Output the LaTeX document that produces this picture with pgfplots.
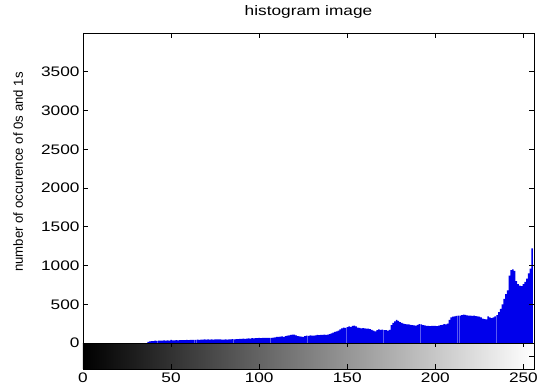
\documentclass[border=0pt]{standalone}
\usepackage{pgfplots}
\pgfplotsset{compat=1.18}
\usepackage{pgfplotstable}
\usepackage{fontspec}
\setmainfont[FakeStretch=1.25]{Liberation Sans}
\newfontfamily\labelfont{Liberation Sans}
\pgfplotstableread{
x y
37 15
38 20
39 25
40 25
41 30
42 28
43 30
44 32
45 30
46 33
47 30
48 35
49 32
50 40
51 35
52 33
53 36
54 35
55 38
56 36
57 38
58 37
59 40
60 38
61 40
62 42
63 40
64 42
65 44
66 42
67 45
68 43
69 46
70 44
71 46
72 45
73 47
74 45
75 48
76 46
77 48
78 47
79 45
80 44
81 46
82 45
83 47
84 46
85 50
86 48
87 52
88 50
89 55
90 53
91 56
92 55
93 58
94 60
95 57
96 62
97 60
98 64
99 62
100 66
101 64
102 68
103 66
104 65
105 67
106 66
107 68
108 70
109 72
110 78
111 80
112 82
113 85
114 80
115 90
116 95
117 98
118 105
119 110
120 108
121 100
122 90
123 85
124 82
125 80
126 88
127 95
128 92
129 98
130 96
131 94
132 100
133 105
134 102
135 104
136 106
137 108
138 105
139 110
140 115
141 125
142 135
143 145
144 150
145 160
146 175
147 190
148 200
149 195
150 205
151 215
152 210
153 220
154 225
155 215
156 200
157 195
158 190
159 192
160 188
161 185
162 186
163 180
164 170
165 160
166 150
167 165
168 175
169 170
170 172
171 168
172 165
173 160
174 170
175 230
176 260
177 280
178 300
179 285
180 270
181 260
182 250
183 245
184 240
185 240
186 235
187 230
188 228
189 225
190 235
191 245
192 240
193 232
194 228
195 220
196 222
197 218
198 220
199 222
200 220
201 218
202 225
203 230
204 235
205 245
206 240
207 250
208 300
209 330
210 340
211 345
212 350
213 352
214 355
215 360
216 365
217 362
218 358
219 355
220 352
221 350
222 352
223 348
224 345
225 340
226 330
227 315
228 310
229 305
230 345
231 330
232 320
233 330
234 345
235 360
236 400
237 440
238 500
239 570
240 630
241 680
242 870
243 940
244 950
245 930
246 800
247 760
248 740
249 735
250 760
251 790
252 830
253 900
254 960
255 1220
}\histdata
\begin{document}
\begin{tikzpicture}
\begin{axis}[
  name=ax,
  scale only axis, width=451pt, height=336pt,
  xmin=0, xmax=256, ymin=-335, ymax=4000,
  xtick={0,50,...,250}, ytick={0,500,...,3500},
  tick align=inside, xtick pos=both, ytick pos=both,
  major tick length=5pt,
  tick style={black, line width=0.6pt},
  axis line style={line width=0.8pt},
  axis on top,
  /pgf/number format/assume math mode=true,
  /pgf/number format/1000 sep={},
  ticklabel style={font=\fontsize{13.8}{16}\selectfont},
  title={histogram image},
  title style={font=\fontsize{13.8}{16}\selectfont, at={(axis description cs:0.5,1)}, anchor=south, yshift=4.7pt},
  ylabel={number of occurence of 0s and 1s},
  ylabel style={font=\labelfont\fontsize{13.2}{15}\selectfont, at={(axis description cs:-0.144,0.586)}, anchor=center},
]
\fill[left color=black, right color=white] (axis cs:0,-335) rectangle (axis cs:256,0);
\addplot[ybar, bar width=0.85, fill=blue!92!black, draw=none] table[x=x, y=y] {\histdata};
\draw[line width=0.6pt] (axis cs:0,0) -- (axis cs:256,0);
\draw[line width=0.6pt] (axis cs:50,0) -- (axis cs:50,-55);
\draw[line width=0.6pt] (axis cs:100,0) -- (axis cs:100,-55);
\draw[line width=0.6pt] (axis cs:150,0) -- (axis cs:150,-55);
\draw[line width=0.6pt] (axis cs:200,0) -- (axis cs:200,-55);
\draw[line width=0.6pt] (axis cs:250,0) -- (axis cs:250,-55);
\draw[line width=0.6pt] (axis cs:256,-175) -- (axis cs:253,-175);
\end{axis}
\pgfresetboundingbox
\path ([shift={(-83pt,-21pt)}]ax.south west) rectangle ([shift={(455pt,369pt)}]ax.south west);
\end{tikzpicture}
\end{document}
